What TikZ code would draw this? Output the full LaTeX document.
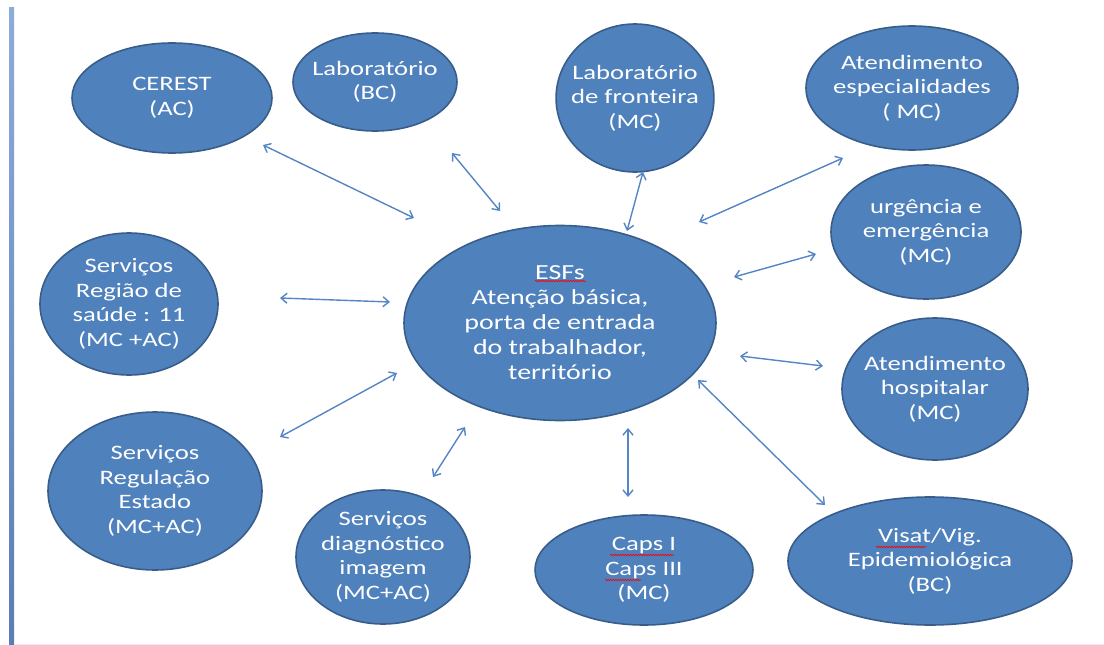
\documentclass[tikz,border=0pt]{standalone}
\usepackage{fontspec}
\setmainfont{Carlito}[FakeStretch=1.3]
\usetikzlibrary{shapes.geometric,arrows.meta,decorations.pathmorphing}
\definecolor{ofill}{HTML}{4F81BD}
\definecolor{oline}{HTML}{385D8A}
\definecolor{arr}{HTML}{5585C5}
\definecolor{barTop}{HTML}{8CACDA}
\definecolor{barBot}{HTML}{5A7DB5}
\begin{document}
\begin{tikzpicture}[x=1pt,y=-1pt,
  bubble/.style={ellipse, fill=ofill, draw=oline, line width=1.6pt, inner sep=-8pt,
    text=white, align=center, font=\fontsize{20.5}{24.5}\selectfont},
  link/.style={draw=arr, line width=1.4pt,
    {Straight Barb[length=6pt,width=10pt]}-{Straight Barb[length=6pt,width=10pt]}},
  squig/.style={draw=red, line width=0.6pt, decorate,
    decoration={snake, amplitude=0.7pt, segment length=2.5pt}}]
\useasboundingbox (0,0) rectangle (1104,645);
\shade[top color=barTop, bottom color=barBot] (9,7) rectangle (14,645);
\draw[gray!15, line width=1pt] (14,644) -- (1104,644);

\node[bubble, minimum width=200pt, minimum height=110pt] (cerest) at (172,98) {CEREST\\(AC)};
\node[bubble, minimum width=164pt, minimum height=98pt] (lab) at (375,82) {Laboratório\\(BC)};
\node[bubble, minimum width=154pt, minimum height=148pt] (labf) at (635,98) {Laboratório\\de fronteira\\(MC)};
\node[bubble, minimum width=212pt, minimum height=124pt] (aesp) at (912,88) {Atendimento\\especialidades\\( MC)};
\node[bubble, minimum width=190pt, minimum height=134pt] (urg) at (926,232) {urgência e\\emergência\\(MC)};
\node[bubble, minimum width=186pt, minimum height=142pt] (hosp) at (935,389) {Atendimento\\hospitalar\\(MC)};
\node[bubble, minimum width=284pt, minimum height=128pt] (visat) at (930,561) {Visat/Vig.\\Epidemiológica\\(BC)};
\node[bubble, minimum width=218pt, minimum height=110pt] (caps) at (644,570) {Caps I\\Caps III\\(MC)};
\node[bubble, minimum width=174pt, minimum height=134pt] (diag) at (383,557) {Serviços\\diagnóstico\\imagem\\(MC+AC)};
\node[bubble, minimum width=214pt, minimum height=158pt] (reg) at (155,491) {Serviços\\Regulação\\Estado\\(MC+AC)};
\node[bubble, minimum width=178pt, minimum height=142pt] (regiao) at (129,304) {Serviços\\Região de\\saúde : 11\\(MC +AC)};
\node[bubble, minimum width=312pt, minimum height=195pt, font=\fontsize{21.5}{25}\selectfont] (esf) at (560,323) {ESFs\\Atenção básica,\\porta de entrada\\do trabalhador,\\território};

% connector end points
\coordinate (a1) at (263,145); \coordinate (b1) at (414,218);
\coordinate (a2) at (452,153); \coordinate (b2) at (500,211);
\coordinate (a3) at (643,172); \coordinate (b3) at (627,231);
\coordinate (a4) at (843,158); \coordinate (b4) at (699,222);
\coordinate (a5) at (816,254); \coordinate (b5) at (734,277);
\coordinate (a6) at (823,366); \coordinate (b6) at (740,356);
\coordinate (a7) at (825,505); \coordinate (b7) at (698,380);
\coordinate (a8) at (628,497); \coordinate (b8) at (628,428);
\coordinate (a9) at (433,477); \coordinate (b9) at (465,427);
\coordinate (a10) at (280,437); \coordinate (b10) at (397,373);
\coordinate (a11) at (280,298); \coordinate (b11) at (390,302);
\foreach \i in {1,...,11} {\draw[link] (a\i) -- (b\i);}

% spell-check marks
\coordinate (s1a) at (535,281); \coordinate (s1b) at (586,281);
\coordinate (s2a) at (610,555); \coordinate (s2b) at (674,555);
\coordinate (s3a) at (605,580); \coordinate (s3b) at (641,580);
\coordinate (s4a) at (876,547); \coordinate (s4b) at (926,547);
\foreach \i in {1,...,4} {\draw[squig] (s\i a) -- (s\i b);}
\end{tikzpicture}
\end{document}
